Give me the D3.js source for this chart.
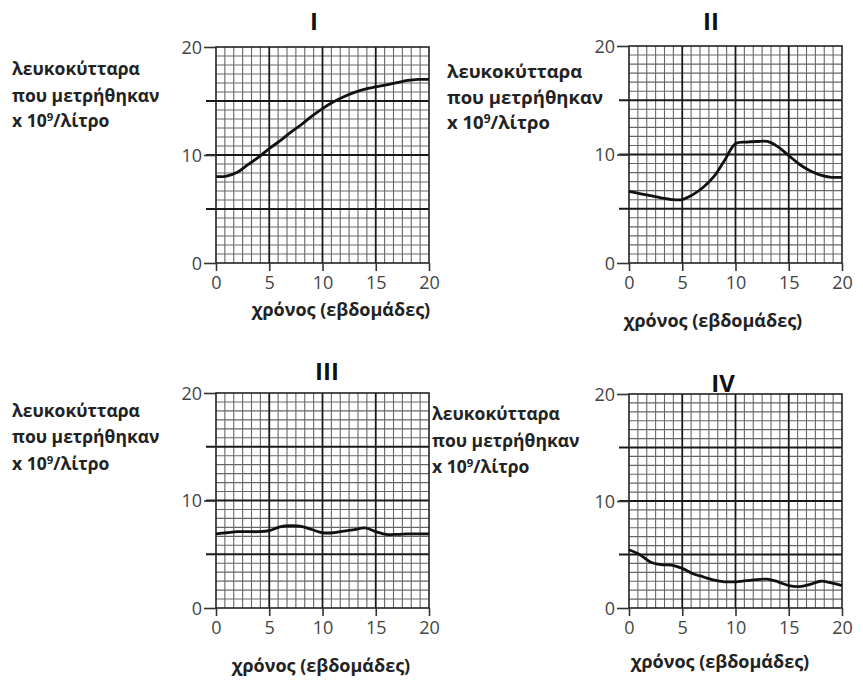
<!DOCTYPE html>
<html><head><meta charset="utf-8">
<script src="https://cdn.jsdelivr.net/npm/d3@7/dist/d3.min.js"></script>
<style>
html,body{margin:0;padding:0;background:#fff;}
svg{display:block;}
</style></head>
<body>
<svg id="chart" width="863" height="683"></svg>
<script>
// ---- data ----
const weeks = [0,1,2,3,4,5,6,7,8,9,10,11,12,13,14,15,16,17,18,19,20];
const seriesI   = [8.0,8.05,8.4,9.1,9.8,10.6,11.3,12.1,12.8,13.6,14.3,14.9,15.4,15.8,16.1,16.3,16.5,16.7,16.9,17.0,17.0];
const seriesII  = [6.6,6.4,6.2,6.0,5.85,5.85,6.3,7.0,8.0,9.5,11.0,11.15,11.2,11.2,10.7,9.9,9.1,8.5,8.1,7.9,7.9];
const seriesIII = [6.9,7.0,7.1,7.1,7.1,7.2,7.55,7.65,7.6,7.3,7.0,7.0,7.15,7.3,7.45,7.1,6.85,6.85,6.9,6.9,6.9];
const seriesIV  = [5.45,5.0,4.3,4.05,4.0,3.7,3.2,2.9,2.6,2.45,2.45,2.55,2.65,2.7,2.45,2.1,2.0,2.2,2.5,2.35,2.1];
const panelTitles = ["I","II","III","IV"];
const xTicks = [0,5,10,15,20];
const yTicks = [0,10,20];
const majorLines = [5,10,15];
const xDomain = [0,20];
const yDomain = [0,20];
const xTitle = "χρόνος (εβδομάδες)";
const yTitleLines = ["λευκοκύτταρα","που μετρήθηκαν"];
const yTitleUnit = ["x 10","9","/λίτρο"];

// ---- layout ----
const layout = [
  {x0:216,x1:429,y0:47,y1:263,title:[314,30],xlab:[341,316],ylab:{x:12,y:[75,102,127],size:17.5}},
  {x0:629,x1:842,y0:46,y1:263,title:[711,30],xlab:[713,327],ylab:{x:447,y:[78,104,129],size:18.5}},
  {x0:216,x1:429,y0:393,y1:608,title:[327,380],xlab:[321,672],ylab:{x:12,y:[417,443,470],size:17.5}},
  {x0:629,x1:842,y0:394,y1:608,title:[723,392],xlab:[720,668],ylab:{x:432,y:[420,447,473],size:17.5}}
];
const seriesAll = [seriesI,seriesII,seriesIII,seriesIV];

const svg = d3.select("#chart");
const FONT = "'Open Sans', 'DejaVu Sans', sans-serif";
const MINOR_PER_MAJOR = 6;

layout.forEach((L,i)=>{
  const x = d3.scaleLinear().domain(xDomain).range([L.x0,L.x1]);
  const y = d3.scaleLinear().domain(yDomain).range([L.y1,L.y0]);
  const g = svg.append("g");

  // minor grid
  const minor = [];
  for (let m=0;m<4;m++) for (let k=1;k<MINOR_PER_MAJOR;k++) minor.push(m*5 + k*5/MINOR_PER_MAJOR);
  g.append("g").selectAll("line").data(minor).join("line")
    .attr("x1",d=>x(d)).attr("x2",d=>x(d)).attr("y1",L.y0).attr("y2",L.y1)
    .attr("stroke","#666").attr("stroke-width",1.1);
  g.append("g").selectAll("line").data(minor).join("line")
    .attr("y1",d=>y(d)).attr("y2",d=>y(d)).attr("x1",L.x0).attr("x2",L.x1)
    .attr("stroke","#666").attr("stroke-width",1.1);
  // major grid
  g.append("g").selectAll("line").data(majorLines).join("line")
    .attr("x1",d=>x(d)).attr("x2",d=>x(d)).attr("y1",L.y0).attr("y2",L.y1)
    .attr("stroke","#1a1a1a").attr("stroke-width",1.8);
  g.append("g").selectAll("line").data(majorLines).join("line")
    .attr("y1",d=>y(d)).attr("y2",d=>y(d)).attr("x1",L.x0-10).attr("x2",L.x1)
    .attr("stroke","#1a1a1a").attr("stroke-width",1.8);
  // border
  g.append("rect").attr("x",L.x0).attr("y",L.y0).attr("width",L.x1-L.x0).attr("height",L.y1-L.y0)
    .attr("fill","none").attr("stroke","#222").attr("stroke-width",1.6);

  // axes
  const ax = g.append("g").attr("transform",`translate(0,${L.y1})`)
    .call(d3.axisBottom(x).tickValues(xTicks).tickSize(8).tickPadding(5).tickFormat(d3.format("d")));
  const ay = g.append("g").attr("transform",`translate(${L.x0},0)`)
    .call(d3.axisLeft(y).tickValues(yTicks).tickSize(12).tickPadding(2).tickFormat(d3.format("d")));
  [ax,ay].forEach(a=>{
    a.select(".domain").remove();
    a.selectAll(".tick line").attr("stroke","#333").attr("stroke-width",1.6);
    a.selectAll(".tick text").attr("fill","#444").style("font-family",FONT).style("font-size","18px");
  });
  ay.selectAll(".tick text").attr("dy","0.36em");

  // curve
  const line = d3.line().x((d,j)=>x(weeks[j])).y(d=>y(d)).curve(d3.curveCatmullRom.alpha(0.5));
  g.append("path").datum(seriesAll[i]).attr("d",line)
    .attr("fill","none").attr("stroke","#111").attr("stroke-width",2.8).attr("stroke-linejoin","round");

  // title
  g.append("text").attr("x",L.title[0]).attr("y",L.title[1]).attr("text-anchor","middle")
    .style("font-family",FONT).style("font-weight","bold").style("font-size","24px").attr("fill","#111")
    .text(panelTitles[i]);
  // x title
  g.append("text").attr("x",L.xlab[0]).attr("y",L.xlab[1]).attr("text-anchor","middle")
    .style("font-family",FONT).style("font-weight","bold").style("font-size","18px").attr("fill","#222")
    .text(xTitle);
  // y title
  const yl = g.append("g").style("font-family",FONT).style("font-weight","bold")
    .style("font-size",L.ylab.size+"px").attr("fill","#222");
  yTitleLines.forEach((t,k)=>{
    yl.append("text").attr("x",L.ylab.x).attr("y",L.ylab.y[k]).text(t);
  });
  const t3 = yl.append("text").attr("x",L.ylab.x).attr("y",L.ylab.y[2]);
  t3.append("tspan").text(yTitleUnit[0]);
  t3.append("tspan").attr("dy",-6).style("font-size",(L.ylab.size*0.65)+"px").text(yTitleUnit[1]);
  t3.append("tspan").attr("dy",6).text(yTitleUnit[2]);
});
</script>
</body></html>
